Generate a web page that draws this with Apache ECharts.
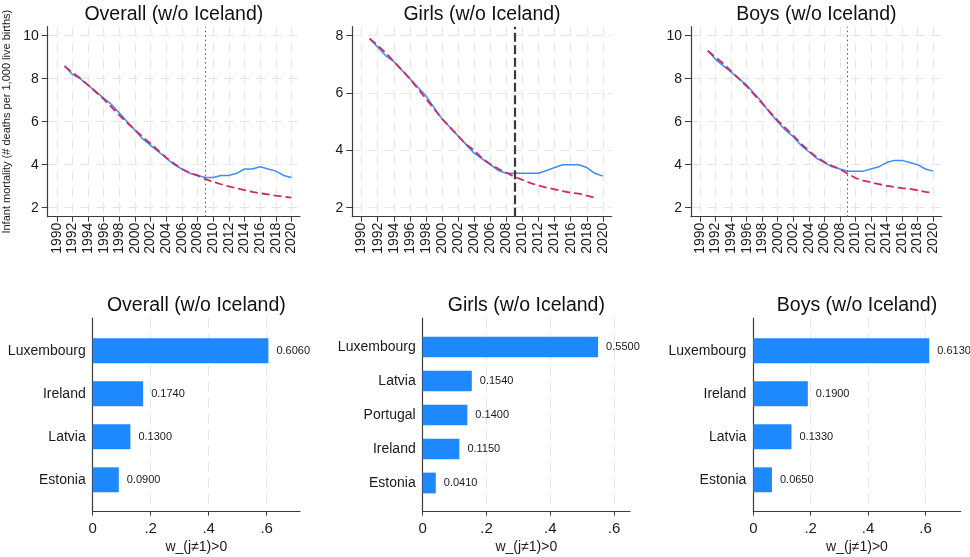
<!DOCTYPE html>
<html>
<head>
<meta charset="utf-8">
<script src="https://cdn.jsdelivr.net/npm/echarts@6/dist/echarts.min.js"></script>
<style>
html,body{margin:0;padding:0;background:#fff;}
#chart{width:970px;height:557px;}
</style>
</head>
<body>
<div id="chart"></div>
<script>
// ---------- data ----------
const years = [1991,1992,1993,1994,1995,1996,1997,1998,1999,2000,2001,2002,2003,2004,2005,2006,2007,2008,2009,2010,2011,2012,2013,2014,2015,2016,2017,2018,2019,2020];
const treatYear = 2009;

const overallActual = [8.6,8.2,8.0,7.7,7.4,7.1,6.8,6.4,6.0,5.6,5.2,4.9,4.6,4.3,4.0,3.8,3.6,3.5,3.4,3.4,3.5,3.5,3.6,3.8,3.8,3.9,3.8,3.7,3.5,3.4];
const overallSynth  = [8.58,8.28,8.02,7.70,7.38,7.05,6.68,6.30,5.95,5.62,5.28,4.98,4.65,4.33,4.05,3.80,3.62,3.50,3.33,3.20,3.09,2.99,2.90,2.82,2.74,2.67,2.62,2.56,2.51,2.47];

const girlsActual = [7.9,7.6,7.3,7.1,6.8,6.5,6.2,5.9,5.5,5.1,4.8,4.5,4.2,3.9,3.7,3.5,3.3,3.2,3.2,3.2,3.2,3.2,3.3,3.4,3.5,3.5,3.5,3.4,3.2,3.1];
const girlsSynth  = [7.90,7.66,7.40,7.10,6.80,6.50,6.15,5.80,5.45,5.10,4.80,4.50,4.20,4.00,3.72,3.52,3.36,3.22,3.08,2.97,2.86,2.77,2.70,2.64,2.58,2.52,2.49,2.42,2.35,null];

const boysActual = [9.3,8.9,8.6,8.3,8.0,7.7,7.3,6.9,6.4,6.0,5.6,5.3,4.9,4.6,4.3,4.1,3.9,3.8,3.7,3.7,3.7,3.8,3.9,4.1,4.2,4.2,4.1,4.0,3.8,3.7];
const boysSynth  = [9.30,9.00,8.70,8.35,8.00,7.65,7.25,6.85,6.45,6.05,5.70,5.35,4.98,4.65,4.35,4.12,3.95,3.80,3.58,3.38,3.26,3.18,3.10,3.02,2.96,2.91,2.87,2.81,2.74,2.68];

const yearTicks = [1990,1992,1994,1996,1998,2000,2002,2004,2006,2008,2010,2012,2014,2016,2018,2020];
const mortTicksWide = [2,4,6,8,10];
const mortTicksGirls = [2,4,6,8];

const overallCountries = ['Luxembourg','Ireland','Latvia','Estonia'];
const overallWeights   = [0.606,0.174,0.130,0.090];
const girlsCountries   = ['Luxembourg','Latvia','Portugal','Ireland','Estonia'];
const girlsWeights     = [0.550,0.154,0.140,0.115,0.041];
const boysCountries    = ['Luxembourg','Ireland','Latvia','Estonia'];
const boysWeights      = [0.613,0.190,0.133,0.065];

const weightTicks = [0,0.2,0.4,0.6];
const weightTickLabels = ['0','.2','.4','.6'];

const titleOverall = 'Overall (w/o Iceland)';
const titleGirls = 'Girls (w/o Iceland)';
const titleBoys = 'Boys (w/o Iceland)';
const yTitle = 'Infant mortality (# deaths per 1,000 live births)';
const xTitleBars = 'w_(j\u22601)>0';

// ---------- styling ----------
const FONT = '"Liberation Sans", Arial, Helvetica, sans-serif';
const AXIS_COLOR = '#3c3c3c';
const TEXT_COLOR = '#1a1a1a';
const BLUE = '#3b8ef4';
const RED = '#d6246a';
const BAR = '#1e88ff';
const gridLine = {show:true, lineStyle:{color:'#e6e6e6', width:1, type:[10,6]}};

const grids = [], xAxes = [], yAxes = [], series = [], graphics = [];

function pairs(arr){ return years.map((y,i)=>[y, arr[i]]); }

const topPanels = [
  {title:titleOverall, left:47.7, width:252.3, ymin:1.58, ymax:10.42, ticks:mortTicksWide, actual:overallActual, synth:overallSynth, vline:{color:'#555', width:1, type:[1.5,3]}, yname:yTitle},
  {title:titleGirls, left:352.3, width:259.4, ymin:1.686, ymax:8.314, ticks:mortTicksGirls, actual:girlsActual, synth:girlsSynth, vline:{color:'#3a3a3a', width:2.2, type:[9,3.5]}, yname:''},
  {title:titleBoys, left:691, width:250.7, ymin:1.58, ymax:10.42, ticks:mortTicksWide, actual:boysActual, synth:boysSynth, vline:{color:'#555', width:1, type:[1.5,3]}, yname:''}
];

topPanels.forEach((p)=>{
  const gi = grids.length;
  grids.push({left:p.left, top:26.7, width:p.width, height:190});
  xAxes.push({
    gridIndex:gi, type:'value', min:1988.84, max:2021.1,
    axisLine:{show:true, onZero:false, lineStyle:{color:AXIS_COLOR, width:1.2}},
    axisTick:{show:true, length:5, customValues:yearTicks, lineStyle:{color:AXIS_COLOR}},
    axisLabel:{customValues:yearTicks, formatter:(v)=>String(Math.round(v)), rotate:90, fontSize:14, color:TEXT_COLOR, margin:6, fontFamily:FONT},
    splitLine:gridLine
  });
  yAxes.push({
    gridIndex:gi, type:'value', min:p.ymin, max:p.ymax,
    axisLine:{show:true, onZero:false, lineStyle:{color:AXIS_COLOR, width:1.2}},
    axisTick:{show:true, length:6, customValues:p.ticks, lineStyle:{color:AXIS_COLOR}},
    axisLabel:{customValues:p.ticks, formatter:(v)=>String(Math.round(v)), fontSize:14, color:TEXT_COLOR, margin:9, fontFamily:FONT},
    splitLine:gridLine,
    name:p.yname, nameLocation:'middle', nameGap:35, nameRotate:90,
    nameTextStyle:{fontSize:11, color:TEXT_COLOR, fontFamily:FONT}
  });
  series.push({
    type:'line', xAxisIndex:gi, yAxisIndex:gi, data:pairs(p.actual), symbol:'none',
    lineStyle:{color:BLUE, width:1.5}, z:3, silent:true,
    markLine:{silent:true, symbol:'none', label:{show:false}, data:[{xAxis:treatYear}], lineStyle:p.vline}
  });
  series.push({
    type:'line', xAxisIndex:gi, yAxisIndex:gi, data:pairs(p.synth), symbol:'none',
    lineStyle:{color:RED, width:1.8, type:[8,4]}, z:4, silent:true
  });
  graphics.push({type:'text', x:p.left + p.width/2, y:14.5, style:{text:p.title, font:'19.5px ' + FONT, fill:'#111', textAlign:'center', textVerticalAlign:'middle'}});
});

const botPanels = [
  {title:titleOverall, left:92.7, width:207.3, max:0.715, bandTop:329.3, bandH:172, cats:overallCountries, vals:overallWeights, barW:'58%'},
  {title:titleGirls, left:422.7, width:207.3, max:0.65, bandTop:330, bandH:170, cats:girlsCountries, vals:girlsWeights, barW:'61%'},
  {title:titleBoys, left:753.3, width:207.4, max:0.7226, bandTop:329.3, bandH:172, cats:boysCountries, vals:boysWeights, barW:'58%'}
];

botPanels.forEach((p)=>{
  // frame grid (axes + gridlines)
  const gf = grids.length;
  grids.push({left:p.left, top:318, width:p.width, height:193.7});
  xAxes.push({
    gridIndex:gf, type:'value', min:0, max:p.max,
    axisLine:{show:true, onZero:false, lineStyle:{color:AXIS_COLOR, width:1.2}},
    axisTick:{show:true, length:4, customValues:weightTicks, lineStyle:{color:AXIS_COLOR}},
    axisLabel:{customValues:weightTicks, formatter:(v)=>weightTickLabels[weightTicks.findIndex(t=>Math.abs(t-v)<1e-9)] ?? '', fontSize:15, color:TEXT_COLOR, margin:10, fontFamily:FONT},
    splitLine:gridLine,
    name:xTitleBars, nameLocation:'middle', nameGap:28,
    nameTextStyle:{fontSize:14, color:TEXT_COLOR, fontFamily:FONT}
  });
  yAxes.push({
    gridIndex:gf, type:'value', min:0, max:1,
    axisLine:{show:true, onZero:false, lineStyle:{color:AXIS_COLOR, width:1.2}},
    axisTick:{show:false}, axisLabel:{show:false}, splitLine:{show:false}
  });
  // bar grid (category bands)
  const gb = grids.length;
  grids.push({left:p.left, top:p.bandTop, width:p.width, height:p.bandH});
  xAxes.push({gridIndex:gb, type:'value', min:0, max:p.max, show:false});
  yAxes.push({
    gridIndex:gb, type:'category', data:p.cats, inverse:true,
    axisLine:{show:false}, axisTick:{show:false}, splitLine:{show:false},
    axisLabel:{fontSize:14, color:TEXT_COLOR, margin:7, fontFamily:FONT}
  });
  series.push({
    type:'bar', xAxisIndex:gb, yAxisIndex:gb, data:p.vals, barWidth:p.barW, silent:true,
    itemStyle:{color:BAR},
    label:{show:true, position:'right', distance:8, formatter:(d)=>d.value.toFixed(4), fontSize:11, color:TEXT_COLOR, fontFamily:FONT}
  });
  graphics.push({type:'text', x:p.left + p.width/2, y:306, style:{text:p.title, font:'19.5px ' + FONT, fill:'#111', textAlign:'center', textVerticalAlign:'middle'}});
});

const chart = echarts.init(document.getElementById('chart'), null, {renderer:'canvas'});
chart.setOption({
  backgroundColor:'#ffffff',
  animation:false,
  textStyle:{fontFamily:FONT},
  grid:grids, xAxis:xAxes, yAxis:yAxes, series:series,
  graphic:graphics
});
</script>
</body>
</html>
